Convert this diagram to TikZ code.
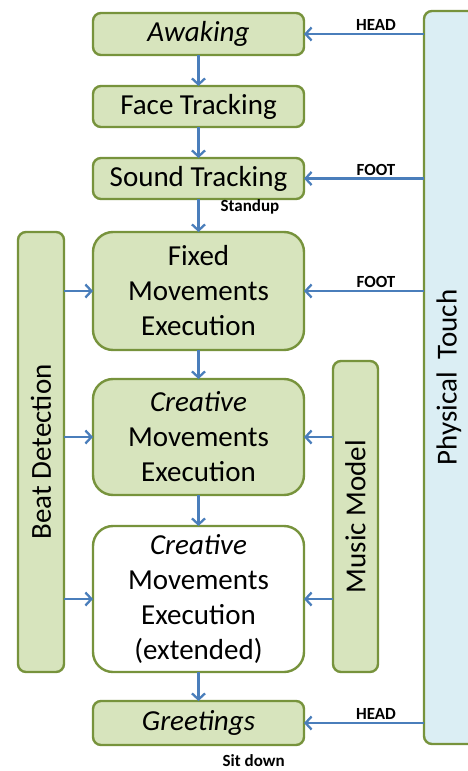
\documentclass[tikz,border=0pt]{standalone}
\usepackage{fontspec}
\setmainfont{Carlito}
\usetikzlibrary{positioning, arrows.meta}

\definecolor{leaf}{HTML}{D7E4BD}
\definecolor{olive}{HTML}{77933C}
\definecolor{wire}{HTML}{4A7EBB}
\definecolor{sky}{HTML}{DBEEF4}

\tikzset{
  stage/.style={draw=olive, fill=leaf, line width=2.4pt, outer sep=0pt, rounded corners=8pt,
    minimum width=211pt, align=center, font=\fontsize{29}{35}\selectfont},
  bigstage/.style={stage, rounded corners=20pt},
  bar/.style={draw=olive, fill=leaf, line width=2.4pt, outer sep=0pt, rounded corners=8pt,
    font=\fontsize{29}{35}\selectfont},
  flow/.style={draw=wire, line width=2.3pt, -{Straight Barb[length=6pt,width=13pt,line width=2.3pt]}},
  tag/.style={font=\fontsize{17}{20}\selectfont\bfseries, inner sep=2pt}
}

\begin{document}
\begin{tikzpicture}[node distance=31pt]
	\useasboundingbox (-198.5pt,34pt) rectangle ++(468pt,-771pt);

	\node[stage, minimum height=42pt]	(awake) 					{\itshape Awaking};
	\node[stage, minimum height=41pt]	(face)		[below=of awake]	{Face Tracking};
	\node[stage, minimum height=41pt]	(sound)		[below=of face]		{Sound Tracking};
	\node[bigstage, minimum height=118pt]	(fixed)		[below=33pt of sound]	{Fixed\\Movements\\Execution};
	\node[bigstage, minimum height=116pt]	(creative)	[below=29pt of fixed]	{\itshape Creative\\Movements\\Execution};
	\node[bigstage, fill=white, minimum height=146pt]	(extended)	[below=of creative]	{\itshape Creative\\Movements\\Execution\\(extended)};
	\node[stage, minimum height=44pt]	(greet)		[below=29pt of extended]	{\itshape Greetings};

	% side bars
	\node[bar, minimum width=46pt, minimum height=440pt, anchor=north east]	(beat)	at ([xshift=-29pt]fixed.north west)	{};
	\node[rotate=90, font=\fontsize{29}{35}\selectfont]	at (beat.center)	{Beat Detection};
	\node[bar, minimum width=45pt, minimum height=311pt, anchor=south west]	(music)	at ([xshift=29pt]extended.south east)	{};
	\node[rotate=90, font=\fontsize{29}{35}\selectfont]	at (music.center)	{Music Model};
	\node[bar, fill=sky, minimum width=60pt, minimum height=733pt, anchor=south west]	(touch)	at ([xshift=120pt, yshift=1pt]greet.south east)	{};
	\node[rotate=90, font=\fontsize{29}{35}\selectfont]	at ([xshift=-5pt]touch.center)	{Physical~~Touch};

	% main sequence
	\draw[flow] (awake) -- (face);
	\draw[flow] (face) -- (sound);
	\draw[flow] (sound) -- node[tag, right, xshift=19pt, pos=0.25] {Standup} (fixed);
	\draw[flow] (fixed) -- (creative);
	\draw[flow] (creative) -- (extended);
	\draw[flow] (extended) -- (greet);
	\node[tag, anchor=north west]	(sitdown)	at ([xshift=22pt, yshift=-7pt]greet.south)	{Sit down};

	% touch inputs
	\draw[flow] (touch.west |- awake) -- node[tag, above, pos=0.4] {HEAD} (awake);
	\draw[flow] (touch.west |- sound) -- node[tag, above, pos=0.4] {FOOT} (sound);
	\draw[flow] (touch.west |- fixed) -- node[tag, above, pos=0.4] {FOOT} (fixed);
	\draw[flow] (touch.west |- greet) -- node[tag, above, pos=0.4] {HEAD} (greet);

	% beat and music inputs
	\draw[flow] (beat.east |- fixed) -- (fixed);
	\draw[flow] (beat.east |- creative) -- (creative);
	\draw[flow] (beat.east |- extended) -- (extended);
	\draw[flow] (music.west |- creative) -- (creative);
	\draw[flow] (music.west |- extended) -- (extended);
\end{tikzpicture}
\end{document}
